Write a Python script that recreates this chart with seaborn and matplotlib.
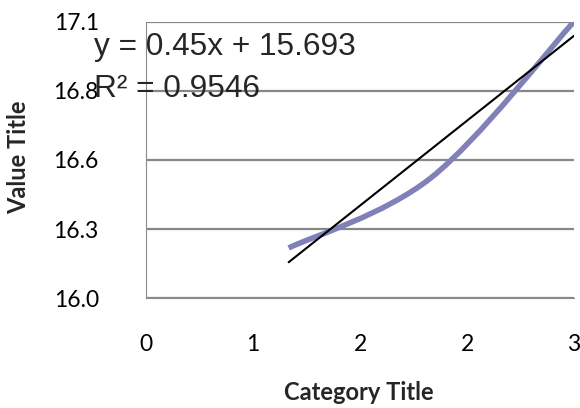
import numpy as np
import matplotlib
matplotlib.use("Agg")
import matplotlib.pyplot as plt
from matplotlib.path import Path
from matplotlib.patches import PathPatch
import seaborn as sns

# series
x_values = [1, 2, 3]
y_values = [16.2, 16.48, 17.1]

x_tick_labels = ["0", "1", "2", "2", "3"]
y_tick_labels = ["16.0", "16.3", "16.6", "16.8", "17.1"]

x_title = "Category Title"
y_title = "Value Title"

LINE_COLOR = "#8081b8"
GRID_COLOR = "#878787"
AXIS_COLOR = "#8c8c8c"


def smooth_path(xs, ys):
    # Excel-style smoothed line: Catmull-Rom segments as cubic Beziers
    pts = np.column_stack([xs, ys]).astype(float)
    n = len(pts)
    verts = [pts[0]]
    codes = [Path.MOVETO]
    for i in range(n - 1):
        p_prev = pts[max(i - 1, 0)]
        p0, p1 = pts[i], pts[i + 1]
        p_next = pts[min(i + 2, n - 1)]
        c1 = p0 + (p1 - p_prev) / 6
        c2 = p1 - (p_next - p0) / 6
        verts += [c1, c2, p1]
        codes += [Path.CURVE4] * 3
    return Path(verts, codes)


sns.set_style("white")
plt.rcParams["font.family"] = ["Lato", "DejaVu Sans"]

fig = plt.figure(figsize=(5.8, 4.08), dpi=100)
ax = fig.add_axes([0.2517, 0.2689, 0.738, 0.6784])

ax.set_xlim(0, 3)
ax.set_ylim(16.0, 17.1)

# smoothed data series
ax.add_patch(PathPatch(smooth_path(x_values, y_values), fill=False,
                       edgecolor=LINE_COLOR, lw=4, capstyle="butt", zorder=3))

# linear trendline
sns.regplot(x=x_values, y=y_values, ax=ax, scatter=False, ci=None,
            truncate=True, line_kws=dict(color="black", lw=1.5, zorder=4))

slope, intercept = np.polyfit(x_values, y_values, 1)
pred = np.polyval([slope, intercept], x_values)
yv = np.array(y_values)
r2 = 1 - np.sum((yv - pred) ** 2) / np.sum((yv - yv.mean()) ** 2)

eq_kw = dict(transform=ax.transAxes, fontsize=22.8, family="Liberation Sans",
             va="baseline", ha="left", clip_on=False, zorder=5)
ax.text(-0.1215, 0.879, f"y = {slope:.4g}x + {intercept:.3f}", **eq_kw)
ax.text(-0.1215, 0.727, f"R² = {r2:.4f}", **eq_kw)

ax.set_xticks(np.linspace(0, 3, len(x_tick_labels)))
ax.set_xticklabels(x_tick_labels)
ax.set_yticks(np.linspace(16.0, 17.1, len(y_tick_labels)))
ax.set_yticklabels(y_tick_labels)

ax.grid(axis="y", color=GRID_COLOR, lw=1.6)
ax.grid(axis="x", visible=False)
ax.set_axisbelow(True)

for side in ["top", "right"]:
    ax.spines[side].set_visible(False)
for side in ["left", "bottom"]:
    ax.spines[side].set_color(AXIS_COLOR)
    ax.spines[side].set_linewidth(0.8)

ax.tick_params(axis="y", direction="out", length=6, width=0.8,
               color=AXIS_COLOR, pad=28, labelsize=16.5, labelcolor="black")
ax.tick_params(axis="x", direction="out", length=5, width=0.8,
               color=AXIS_COLOR, pad=21, labelsize=16.5, labelcolor="black")

ax.set_xlabel(x_title, fontsize=17, fontweight="bold")
ax.xaxis.label.set_verticalalignment("baseline")
ax.xaxis.set_label_coords(0.4965, -0.367)
ax.set_ylabel(y_title, fontsize=17, fontweight="bold")
ax.yaxis.label.set_verticalalignment("center")
ax.yaxis.set_label_coords(-0.298, 0.51)

fig.savefig("out.png", dpi=100)
plt.close(fig)
